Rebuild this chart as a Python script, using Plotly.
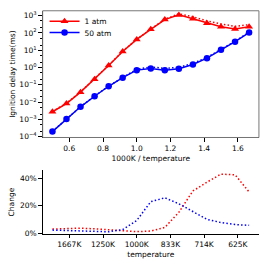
import plotly.graph_objects as go

# 1000/T values (15 points from 2000 K to 600 K)
inv_t = [0.5 + i * (1000 / 600 - 0.5) / 14 for i in range(15)]

red_1atm = [2.8e-3, 8.3e-3, 0.038, 0.21, 1.3, 8.5, 42, 162, 590, 1100, 650, 365, 230, 170, 230]
red_1atm_alt = [2.9e-3, 8.6e-3, 0.0395, 0.217, 1.34, 8.7, 42.6, 165, 617, 1270, 850, 500, 328, 242, 299]
blue_50atm = [2.0e-4, 1.07e-3, 5.4e-3, 0.022, 0.083, 0.26, 0.71, 0.89, 0.71, 0.85, 1.5, 3.5, 10.5, 31, 105]
blue_50atm_alt = [2.05e-4, 1.09e-3, 5.5e-3, 0.0224, 0.084, 0.268, 0.78, 1.09, 0.89, 1.03, 1.74, 3.86, 11.3, 33, 111]

change_red = [3.3, 3.7, 4.0, 3.5, 3.0, 2.4, 1.5, 1.9, 4.5, 15.4, 30.7, 37, 42.8, 42.3, 30]
change_blue = [2.6, 2.2, 1.9, 1.6, 1.4, 3.0, 9.5, 23, 25.8, 21.5, 15.7, 10.3, 8.0, 6.6, 6.0]

x_ticks = [0.6, 0.8, 1.0, 1.2, 1.4, 1.6]
x_tick_labels = ["0.6", "0.8", "1.0", "1.2", "1.4", "1.6"]
temp_tick_labels = ["1667K", "1250K", "1000K", "833K", "714K", "625K"]
y_log_ticks = [1e-4, 1e-3, 1e-2, 1e-1, 1e0, 1e1, 1e2, 1e3]
y_log_labels = ["10<sup>−4</sup>", "10<sup>−3</sup>", "10<sup>−2</sup>", "10<sup>−1</sup>",
                "10<sup>0</sup>", "10<sup>1</sup>", "10<sup>2</sup>", "10<sup>3</sup>"]
change_ticks = [0, 20, 40]
change_labels = ["0%", "20%", "40%"]

RED = "#ff0000"
BLUE = "#0000ff"
FONT = "DejaVu Sans"
DOT = "1.5px,2.2px"

fig = go.Figure()
fig.add_trace(go.Scatter(x=inv_t, y=red_1atm_alt, mode="lines", line=dict(color=RED, width=1.5, dash=DOT),
                         showlegend=False, xaxis="x", yaxis="y"))
fig.add_trace(go.Scatter(x=inv_t, y=blue_50atm_alt, mode="lines", line=dict(color=BLUE, width=1.5, dash=DOT),
                         showlegend=False, xaxis="x", yaxis="y"))
fig.add_trace(go.Scatter(x=inv_t, y=red_1atm, mode="lines+markers", name="1 atm",
                         line=dict(color=RED, width=1.5), legend="legend",
                         marker=dict(symbol="triangle-up", size=7, color=RED), xaxis="x", yaxis="y"))
fig.add_trace(go.Scatter(x=inv_t, y=blue_50atm, mode="lines+markers", name="50 atm",
                         line=dict(color=BLUE, width=1.5), legend="legend2",
                         marker=dict(symbol="circle", size=6.5, color=BLUE), xaxis="x", yaxis="y"))

fig.add_trace(go.Scatter(x=inv_t, y=change_red, mode="lines", line=dict(color=RED, width=1.5, dash=DOT),
                         showlegend=False, xaxis="x2", yaxis="y2"))
fig.add_trace(go.Scatter(x=inv_t, y=change_blue, mode="lines", line=dict(color=BLUE, width=1.5, dash=DOT),
                         showlegend=False, xaxis="x2", yaxis="y2"))

xr = [0.442, 1.725]
tickfont = dict(family=FONT, size=7.5, color="black")
common_x = dict(range=xr, tickvals=x_ticks, ticks="outside", ticklen=3.5, tickcolor="black",
                showgrid=False, zeroline=False, showline=True, linecolor="black", linewidth=1,
                tickfont=tickfont)
legend_common = dict(xanchor="left", yanchor="middle", bgcolor="rgba(0,0,0,0)",
                     font=dict(family=FONT, size=7.5, color="black"), itemwidth=30)

fig.update_layout(
    width=270, height=270,
    margin=dict(l=0, r=0, t=0, b=0),
    paper_bgcolor="white", plot_bgcolor="white",
    font=dict(family=FONT, size=7.5, color="black"),
    xaxis=dict(domain=[0.158, 0.959], anchor="y", ticktext=x_tick_labels,
               title=dict(text="1000K / temperature", standoff=3, font=dict(family=FONT, size=7.5)),
               **common_x),
    yaxis=dict(domain=[0.483, 0.963], anchor="x", type="log", range=[-4.04, 3.28],
               tickvals=y_log_ticks, ticktext=y_log_labels, ticks="outside", ticklen=3.5,
               tickcolor="black", showgrid=False, zeroline=False, showline=True,
               linecolor="black", linewidth=1, tickfont=tickfont,
               minor=dict(ticks="outside", ticklen=2, tickcolor="black", showgrid=False),
               title=dict(text="Ignition delay time(ms)", standoff=2, font=dict(family=FONT, size=7.5))),
    xaxis2=dict(domain=[0.158, 0.959], anchor="y2", ticktext=temp_tick_labels,
                title=dict(text="temperature", standoff=3, font=dict(family=FONT, size=7.5)),
                **common_x),
    yaxis2=dict(domain=[0.1185, 0.358], anchor="x2", range=[0, 45.4], tickvals=change_ticks,
                ticktext=change_labels, ticks="outside", ticklen=3.5, tickcolor="black",
                showgrid=False, zeroline=False, showline=True, linecolor="black", linewidth=1,
                tickfont=tickfont,
                title=dict(text="Change", standoff=4, font=dict(family=FONT, size=7.5))),
    legend=dict(x=0.165, y=1 - 20.7 / 270, **legend_common),
    legend2=dict(x=0.165, y=1 - 32.3 / 270, **legend_common),
    shapes=[dict(type="rect", xref="paper", yref="paper", x0=0.158, x1=0.959, y0=0.483, y1=0.963,
                 line=dict(color="#777777", width=1), layer="above")],
)

fig.write_html("out.html", config={"displayModeBar": False},
               post_script="document.body.style.margin='0';")
